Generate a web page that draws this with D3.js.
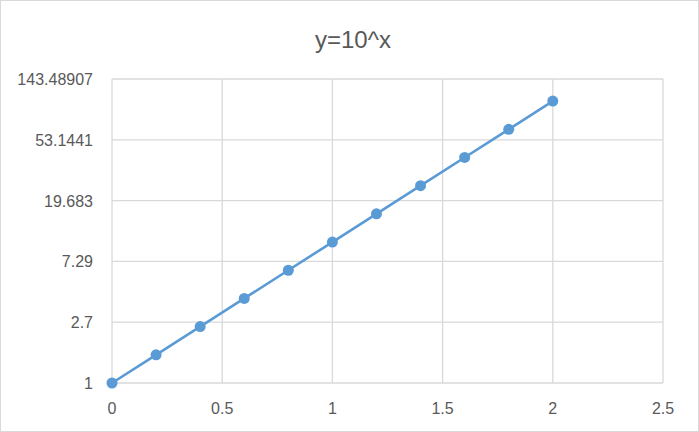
<!DOCTYPE html>
<meta charset="utf-8">
<style>
body { margin: 0; background: #fff; }
text { font-family: "Liberation Sans", Arial, sans-serif; fill: #595959; }
.grid line { stroke: #d9d9d9; stroke-width: 1.3px; }
.line { fill: none; stroke: #5b9bd5; stroke-width: 2.6px; }
.dot { fill: #5b9bd5; }
</style>
<svg width="699" height="432"></svg>
<script src="https://cdn.jsdelivr.net/npm/d3@7"></script>
<script>

var xs = [0, 0.2, 0.4, 0.6, 0.8, 1, 1.2, 1.4, 1.6, 1.8, 2];
var ys = [1, 1.584893, 2.511886, 3.981072, 6.309573, 10, 15.848932, 25.118864, 39.810717, 63.095734, 100];
var xTicks = [0, 0.5, 1, 1.5, 2, 2.5];
var yTicks = [1, 2.7, 7.29, 19.683, 53.1441, 143.48907];
var yTickLabels = ["1", "2.7", "7.29", "19.683", "53.1441", "143.48907"];
var title = "y=10^x";

var svg = d3.select("svg"),
    margin = {top: 79, right: 36, bottom: 49, left: 112},
    width = +svg.attr("width") - margin.left - margin.right,
    height = +svg.attr("height") - margin.top - margin.bottom;

// chart border
svg.append("rect")
    .attr("x", 0.5).attr("y", 0.5)
    .attr("width", 698).attr("height", 431)
    .attr("fill", "#fff")
    .attr("stroke", "#d9d9d9");

svg.append("text")
    .attr("x", 353).attr("y", 48)
    .attr("text-anchor", "middle")
    .style("font-size", "24px")
    .text(title);

var g = svg.append("g").attr("transform", "translate(" + margin.left + "," + margin.top + ")");

var x = d3.scaleLinear().domain([0, 2.5]).range([0, width]);
var y = d3.scaleLog().base(2.7).domain([1, 143.48907]).range([height, 0]);

var grid = g.append("g").attr("class", "grid");
grid.selectAll(".vx").data(xTicks).enter().append("line")
    .attr("x1", function(d) { return x(d); }).attr("x2", function(d) { return x(d); })
    .attr("y1", 0).attr("y2", height);
grid.selectAll(".hy").data(yTicks).enter().append("line")
    .attr("x1", 0).attr("x2", width)
    .attr("y1", function(d) { return y(d); }).attr("y2", function(d) { return y(d); });

g.selectAll(".xl").data(xTicks).enter().append("text")
    .attr("x", function(d) { return x(d); })
    .attr("y", height + 31)
    .attr("text-anchor", "middle")
    .style("font-size", "16px")
    .text(function(d) { return d; });

g.selectAll(".yl").data(yTicks).enter().append("text")
    .attr("x", -19)
    .attr("y", function(d) { return y(d) + 6; })
    .attr("text-anchor", "end")
    .style("font-size", "16px")
    .text(function(d, i) { return yTickLabels[i]; });

var line = d3.line()
    .x(function(d, i) { return x(xs[i]); })
    .y(function(d) { return y(d); });

g.append("path").datum(ys).attr("class", "line").attr("d", line);

g.selectAll(".dot").data(ys).enter().append("circle")
    .attr("class", "dot")
    .attr("cx", function(d, i) { return x(xs[i]); })
    .attr("cy", function(d) { return y(d); })
    .attr("r", 5.5);

</script>
